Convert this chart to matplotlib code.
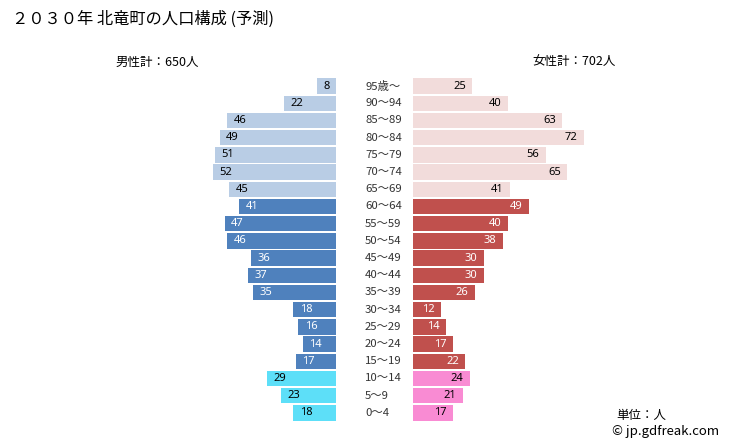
import matplotlib
matplotlib.use("Agg")
import matplotlib.pyplot as plt
from matplotlib import transforms

plt.rcParams['font.family'] = ['Noto Sans CJK JP', 'DejaVu Sans']

ages = ["95歳～", "90～94", "85～89", "80～84", "75～79", "70～74", "65～69",
        "60～64", "55～59", "50～54", "45～49", "40～44", "35～39",
        "30～34", "25～29", "20～24", "15～19", "10～14", "5～9", "0～4"]
male = [8, 22, 46, 49, 51, 52, 45, 41, 47, 46, 36, 37, 35, 18, 16, 14, 17, 29, 23, 18]
female = [25, 40, 63, 72, 56, 65, 41, 49, 40, 38, 30, 30, 26, 12, 14, 17, 22, 24, 21, 17]
title = "２０３０年 北竜町の人口構成 (予測)"
male_total = "男性計：650人"
female_total = "女性計：702人"

def group(i):
    if i <= 6:
        return 'old'
    if i >= 17:
        return 'young'
    return 'mid'

male_col = {'old': '#b9cde5', 'mid': '#4f81bd', 'young': '#5ddff8'}
female_col = {'old': '#f2dcdb', 'mid': '#c0504d', 'young': '#f98bd3'}
male_txt = {'old': 'black', 'mid': 'white', 'young': 'black'}
female_txt = {'old': 'black', 'mid': 'white', 'young': 'black'}

W, H = 729, 446
fig = plt.figure(figsize=(W / 100, H / 100), dpi=100)

k = 2.37  # px per unit
span = 100
top_px, bot_px = 77.5, 421.5
axb = (H - bot_px) / H
axh = (bot_px - top_px) / H
lx0 = 336 - span * k
axL = fig.add_axes([lx0 / W, axb, span * k / W, axh])
axR = fig.add_axes([413 / W, axb, span * k / W, axh])

n = len(ages)
for ax in (axL, axR):
    ax.set_ylim(n - 0.5, -0.5)
    ax.axis('off')
axL.set_xlim(span, 0)
axR.set_xlim(0, span)

numfont = ['Noto Sans', 'DejaVu Sans']
off = 5.4
for i in range(n):
    g = group(i)
    axL.barh(i, male[i], height=0.9, color=male_col[g], edgecolor='none')
    axR.barh(i, female[i], height=0.9, color=female_col[g], edgecolor='none')
    mx = male[i] - off if male[i] > 2 * off else male[i] / 2
    fx = female[i] - off if female[i] > 2 * off else female[i] / 2
    axL.text(mx, i, str(male[i]), ha='center', va='center', fontsize=8,
             color=male_txt[g], family=numfont)
    axR.text(fx, i, str(female[i]), ha='center', va='center', fontsize=8,
             color=female_txt[g], family=numfont)

trans = transforms.blended_transform_factory(fig.transFigure, axL.transData)
for i in range(n):
    axL.text(365 / W, i, ages[i], transform=trans, ha='left', va='center',
             fontsize=8.2, color='#333333')

fig.text(12 / W, 1 - 19 / H, title, ha='left', va='center', fontsize=11.7)
fig.text(157 / W, 1 - 62 / H, male_total, ha='center', va='center', fontsize=9)
fig.text(574 / W, 1 - 62 / H, female_total, ha='center', va='center', fontsize=9)
fig.text(616 / W, 1 - 415 / H, "単位：人", ha='left', va='center', fontsize=9)
fig.text(612 / W, 1 - 432 / H, "© jp.gdfreak.com", ha='left', va='center', fontsize=9.5)

fig.savefig("out.png", dpi=100)
